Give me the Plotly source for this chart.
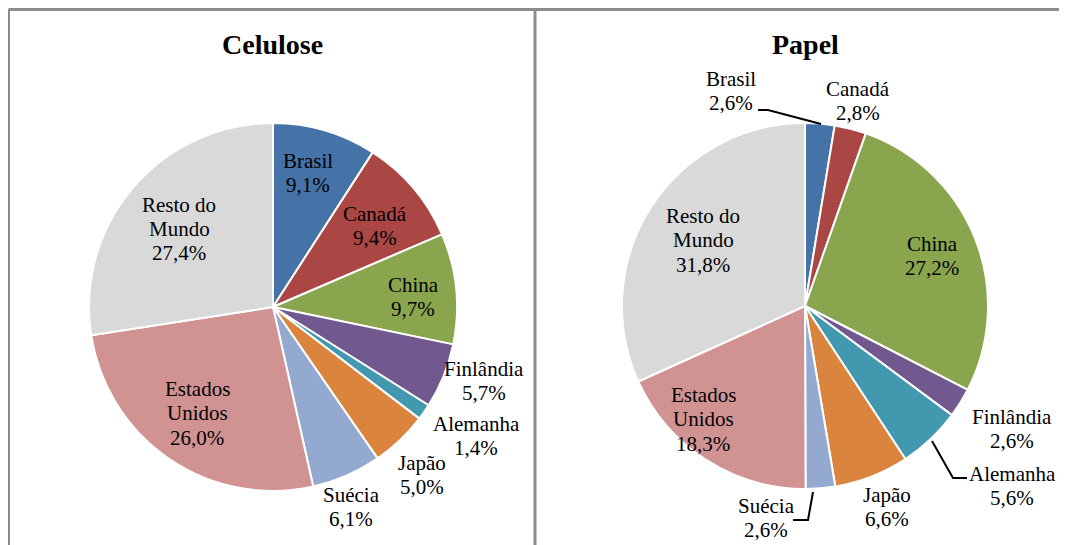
import plotly.graph_objects as go

W, H = 1067, 545
OFF = 8  # page body margin in the browser

countries = ["Brasil", "Canadá", "China", "Finlândia", "Alemanha", "Japão",
             "Suécia", "Estados Unidos", "Resto do Mundo"]
celulose_values = [9.1, 9.4, 9.7, 5.7, 1.4, 5.0, 6.1, 26.0, 27.4]
papel_values = [2.6, 2.8, 27.2, 2.6, 5.6, 6.6, 2.6, 18.3, 31.8]
colors = ["#4572A7", "#AA4643", "#89A54E", "#71588F", "#4198AF", "#DB843D",
          "#93A9CF", "#D19392", "#D9D9D9"]

# label lines (display text)
label_lines = [["Brasil"], ["Canadá"], ["China"], ["Finlândia"], ["Alemanha"],
               ["Japão"], ["Suécia"], ["Estados", "Unidos"], ["Resto do", "Mundo"]]

# layout: pie centres / radii in screen pixels
pie1 = dict(cx=273, cy=307, r=184)
pie2 = dict(cx=805, cy=306, r=183)

# label block centre positions in screen pixels (x, y from top)
cel_label_pos = [(308, 173), (375, 226), (413, 297), (484, 381), (476, 436),
                 (422, 475), (351, 507), (197, 413), (179, 229)]
pap_label_pos = [(731, 91), (858, 101), (932, 256), (1012, 429), (1012, 486),
                 (887, 507), (766, 518), (703, 419), (703, 240)]
LINE_H = 24.5


def px(x):
    return (x - OFF) / W


def py(y):
    return 1 - (y - OFF) / H


def domain(p):
    return dict(x=[px(p["cx"] - p["r"]), px(p["cx"] + p["r"])],
                y=[py(p["cy"] + p["r"]), py(p["cy"] - p["r"])])


def fmt(v):
    return f"{v:.1f}".replace(".", ",") + "%"


fig = go.Figure()
for vals, p in [(celulose_values, pie1), (papel_values, pie2)]:
    fig.add_trace(go.Pie(
        labels=countries, values=vals, sort=False, direction="clockwise",
        rotation=0, marker=dict(colors=colors, line=dict(color="white", width=2)),
        textinfo="none", hoverinfo="label+value", domain=domain(p),
        showlegend=False,
    ))

font = dict(family="Liberation Serif, Times New Roman, serif", size=21, color="black")
annotations = []
for vals, pos in [(celulose_values, cel_label_pos), (papel_values, pap_label_pos)]:
    for lines, v, (x, y) in zip(label_lines, vals, pos):
        all_lines = lines + [fmt(v)]
        n = len(all_lines)
        for i, t in enumerate(all_lines):
            ly = y + (i - (n - 1) / 2) * LINE_H
            annotations.append(dict(
                x=px(x), y=py(ly), xref="paper", yref="paper", showarrow=False,
                text=t, font=font, align="center",
                xanchor="center", yanchor="middle",
            ))

title_font = dict(family="Liberation Serif, Times New Roman, serif", size=28, color="black")
annotations.append(dict(x=px(272), y=py(45), xref="paper", yref="paper", showarrow=False,
                        text="<b>Celulose</b>", font=title_font,
                        xanchor="center", yanchor="middle"))
annotations.append(dict(x=px(805), y=py(45), xref="paper", yref="paper", showarrow=False,
                        text="<b>Papel</b>", font=title_font,
                        xanchor="center", yanchor="middle"))

shapes = []
border = dict(color="#8C8C8C", width=3)
for (x0, y0, x1, y1) in [(8.5, 9.5, 535, 9.5), (535, 9.5, W + OFF, 9.5),
                         (535, 9.5, 535, H + OFF)]:
    shapes.append(dict(type="line", xref="paper", yref="paper",
                       x0=px(x0), y0=py(y0), x1=px(x1), y1=py(y1), line=border))
shapes.append(dict(type="line", xref="paper", yref="paper",
                   x0=px(9), y0=py(9.5), x1=px(9), y1=py(H + OFF),
                   line=dict(color="#8C8C8C", width=2)))

# leader lines (papel)
leaders = [
    [(758, 110), (768, 110), (821, 124)],
    [(932, 441), (953, 478), (967, 478)],
    [(793, 520), (808, 520), (813, 492)],
]
for pts in leaders:
    path = "M " + " L ".join(f"{px(x)},{py(y)}" for x, y in pts)
    shapes.append(dict(type="path", xref="paper", yref="paper", path=path,
                       line=dict(color="black", width=2)))

fig.update_layout(
    width=W, height=H, margin=dict(l=0, r=0, t=0, b=0),
    paper_bgcolor="white", plot_bgcolor="white",
    annotations=annotations, shapes=shapes,
)

fig.write_html("out.html")
